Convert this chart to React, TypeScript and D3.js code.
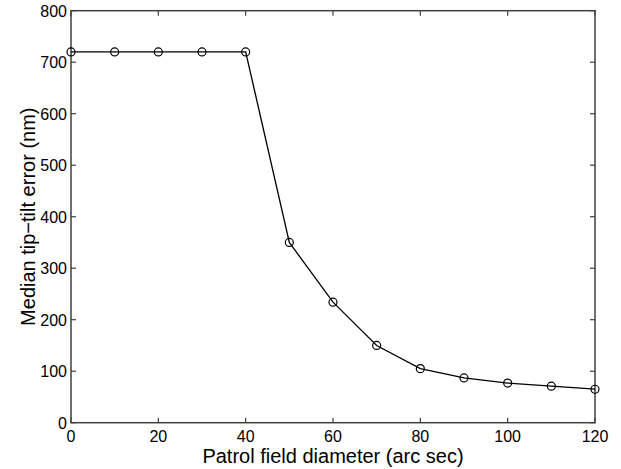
import React from "react";
import * as d3 from "d3";

const diameters = [0, 10, 20, 30, 40, 50, 60, 70, 80, 90, 100, 110, 120];
const errors = [720, 720, 720, 720, 720, 350, 234, 150, 105, 87, 77, 71, 65];
const xTicks = [0, 20, 40, 60, 80, 100, 120];
const yTicks = [0, 100, 200, 300, 400, 500, 600, 700, 800];
const xLabel = "Patrol field diameter (arc sec)";
const yLabel = "Median tip\u2212tilt error (nm)";

const W = 621, H = 469;
const L = 71, R = 595, T = 10.7, B = 422.7;
const axisColor = "#404040";
const font = "Liberation Sans, Arial, sans-serif";

export default function App() {
  const x = d3.scaleLinear().domain([0, 120]).range([L, R]);
  const y = d3.scaleLinear().domain([0, 800]).range([B, T]);
  const line = d3.line<number>().x((_, i) => x(diameters[i])).y((d) => y(d));
  const tl = 5;
  return (
    <svg width={W} height={H} style={{ position: "absolute", left: 0, top: 0, background: "#fff" }}>
      <rect x={0} y={0} width={W} height={H} fill="#fff" />
      <g stroke={axisColor} strokeWidth={1.2}>
        {xTicks.map((t) => (
          <g key={"x" + t}>
            <line x1={x(t)} x2={x(t)} y1={B} y2={B - tl} />
            <line x1={x(t)} x2={x(t)} y1={T} y2={T + tl} />
          </g>
        ))}
        {yTicks.map((t) => (
          <g key={"y" + t}>
            <line x1={L} x2={L + tl} y1={y(t)} y2={y(t)} />
            <line x1={R} x2={R - tl} y1={y(t)} y2={y(t)} />
          </g>
        ))}
        <rect x={L} y={T} width={R - L} height={B - T} fill="none" strokeWidth={1.5} />
      </g>
      <path d={line(errors) || ""} fill="none" stroke="#000" strokeWidth={1.3} />
      {errors.map((v, i) => (
        <circle key={i} cx={x(diameters[i])} cy={y(v)} r={4} fill="none" stroke="#000" strokeWidth={1.2} />
      ))}
      <g fontFamily={font} fontSize={16} fill="#000">
        {xTicks.map((t) => (
          <text key={"xl" + t} x={x(t)} y={441.5} textAnchor="middle">{t}</text>
        ))}
        {yTicks.map((t) => (
          <text key={"yl" + t} x={L - 4} y={y(t) + 6} textAnchor="end">{t}</text>
        ))}
      </g>
      <text x={(L + R) / 2} y={463} textAnchor="middle" fontFamily={font} fontSize={20}>{xLabel}</text>
      <text transform={`translate(35, ${(T + B) / 2}) rotate(-90)`} textAnchor="middle" fontFamily={font} fontSize={20}>{yLabel}</text>
    </svg>
  );
}
